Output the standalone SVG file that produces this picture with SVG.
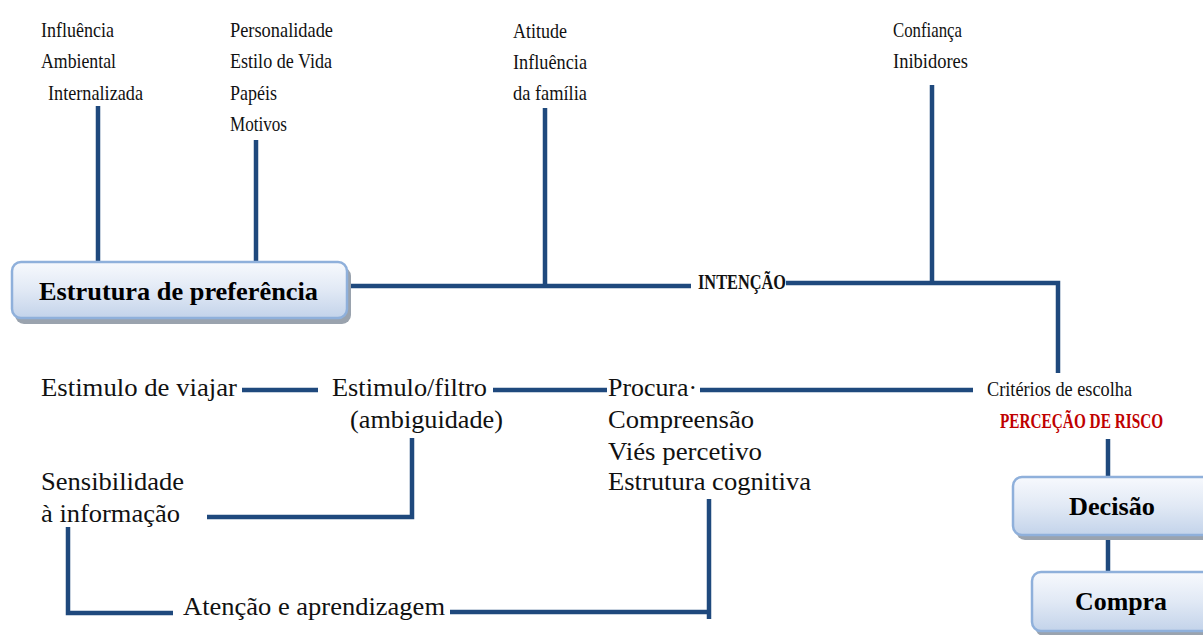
<svg xmlns="http://www.w3.org/2000/svg" width="1203" height="635" viewBox="0 0 1203 635">
<defs>
<linearGradient id="boxGrad" x1="0" y1="0" x2="0" y2="1">
<stop offset="0" stop-color="#f7f9fd"/>
<stop offset="0.5" stop-color="#e1e9f5"/>
<stop offset="1" stop-color="#c3d3ea"/>
</linearGradient>
<style>
.ln{fill:none;stroke:#1f497d;stroke-width:4.5;stroke-linejoin:miter;stroke-linecap:butt}
.cond{font-family:"Liberation Serif","Times New Roman","DejaVu Serif",serif;font-size:22px;fill:#111}
.condb{font-family:"Liberation Serif","Times New Roman","DejaVu Serif",serif;font-size:22px;font-weight:bold;fill:#111}
.red{fill:#c00000}
.reg{font-family:"Liberation Serif","Times New Roman",serif;font-size:26px;fill:#111}
.bold{font-family:"Liberation Serif","Times New Roman",serif;font-size:26px;font-weight:bold;fill:#000}
.box{fill:url(#boxGrad);stroke:#8fb0db;stroke-width:2.5}
.shadow{fill:#9aa3ae}
</style>
</defs>
<rect width="1203" height="635" fill="#ffffff"/>

<g id="connectors">
<path class="ln" d="M98,106V262"/>
<path class="ln" d="M256,140V262"/>
<path class="ln" d="M347,286H691"/>
<path class="ln" d="M545,108V286"/>
<path class="ln" d="M786,283H1058V373"/>
<path class="ln" d="M932,85V283"/>
<path class="ln" d="M242,390H318"/>
<path class="ln" d="M493,390H607"/>
<path class="ln" d="M700,390H973"/>
<path class="ln" d="M412,438V517H207"/>
<path class="ln" d="M68,527V613H173"/>
<path class="ln" d="M450,612H709"/>
<path class="ln" d="M709,499V619"/>
<path class="ln" d="M1108,439V477"/>
<path class="ln" d="M1108,535V572"/>
</g>

<g id="estrutura">
<rect class="shadow" x="15" y="267" width="336" height="57" rx="9"/>
<rect class="box" x="12" y="262" width="335" height="56" rx="9"/>
<text class="bold" x="39" y="300" textLength="279" lengthAdjust="spacingAndGlyphs">Estrutura de preferência</text>
</g>

<g id="decisao">
<rect class="shadow" x="1016" y="482" width="200" height="58" rx="9"/>
<rect class="box" x="1013" y="477" width="200" height="58" rx="9"/>
<text class="bold" x="1069" y="515" textLength="86" lengthAdjust="spacingAndGlyphs">Decisão</text>
</g>

<g id="compra">
<rect class="shadow" x="1035" y="577" width="190" height="59" rx="9"/>
<rect class="box" x="1032" y="572" width="190" height="59" rx="9"/>
<text class="bold" x="1075" y="610" textLength="92" lengthAdjust="spacingAndGlyphs">Compra</text>
</g>

<g id="influencia-ambiental">
<text class="cond" x="41" y="37" textLength="73" lengthAdjust="spacingAndGlyphs">Influência</text>
<text class="cond" x="41" y="68" textLength="75" lengthAdjust="spacingAndGlyphs">Ambiental</text>
<text class="cond" x="48" y="100" textLength="95" lengthAdjust="spacingAndGlyphs">Internalizada</text>
</g>

<g id="personalidade">
<text class="cond" x="230" y="37" textLength="103" lengthAdjust="spacingAndGlyphs">Personalidade</text>
<text class="cond" x="230" y="68" textLength="102" lengthAdjust="spacingAndGlyphs">Estilo de Vida</text>
<text class="cond" x="230" y="100" textLength="47" lengthAdjust="spacingAndGlyphs">Papéis</text>
<text class="cond" x="230" y="131" textLength="57" lengthAdjust="spacingAndGlyphs">Motivos</text>
</g>

<g id="atitude">
<text class="cond" x="513" y="38" textLength="54" lengthAdjust="spacingAndGlyphs">Atitude</text>
<text class="cond" x="513" y="69" textLength="74" lengthAdjust="spacingAndGlyphs">Influência</text>
<text class="cond" x="513" y="100" textLength="74" lengthAdjust="spacingAndGlyphs">da família</text>
</g>

<g id="confianca">
<text class="cond" x="893" y="37" textLength="69" lengthAdjust="spacingAndGlyphs">Confiança</text>
<text class="cond" x="893" y="68" textLength="75" lengthAdjust="spacingAndGlyphs">Inibidores</text>
</g>

<g id="intencao">
<text class="condb" x="698" y="289" textLength="88" lengthAdjust="spacingAndGlyphs">INTENÇÃO</text>
</g>

<g id="criterios">
<text class="cond" x="987" y="396" textLength="145" lengthAdjust="spacingAndGlyphs">Critérios de escolha</text>
<text class="condb red" transform="translate(1000,428) scale(0.7,1)" x="0" y="0" textLength="233" lengthAdjust="spacingAndGlyphs">PERCEÇÃO DE RISCO</text>
</g>

<g id="estimulo-viajar">
<text class="reg" x="41" y="396" textLength="196" lengthAdjust="spacingAndGlyphs">Estimulo de viajar</text>
</g>

<g id="estimulo-filtro">
<text class="reg" x="332" y="396" textLength="155" lengthAdjust="spacingAndGlyphs">Estimulo/filtro</text>
<text class="reg" x="350" y="428" textLength="153" lengthAdjust="spacingAndGlyphs">(ambiguidade)</text>
</g>

<g id="procura">
<text class="reg" x="608" y="396" textLength="89" lengthAdjust="spacingAndGlyphs">Procura·</text>
<text class="reg" x="608" y="428" textLength="146" lengthAdjust="spacingAndGlyphs">Compreensão</text>
<text class="reg" x="608" y="460" textLength="154" lengthAdjust="spacingAndGlyphs">Viés percetivo</text>
<text class="reg" x="608" y="490" textLength="203" lengthAdjust="spacingAndGlyphs">Estrutura cognitiva</text>
</g>

<g id="sensibilidade">
<text class="reg" x="41" y="490" textLength="143" lengthAdjust="spacingAndGlyphs">Sensibilidade</text>
<text class="reg" x="41" y="522" textLength="139" lengthAdjust="spacingAndGlyphs">à informação</text>
</g>

<g id="atencao">
<text class="reg" x="183" y="615" textLength="262" lengthAdjust="spacingAndGlyphs">Atenção e aprendizagem</text>
</g>
</svg>
